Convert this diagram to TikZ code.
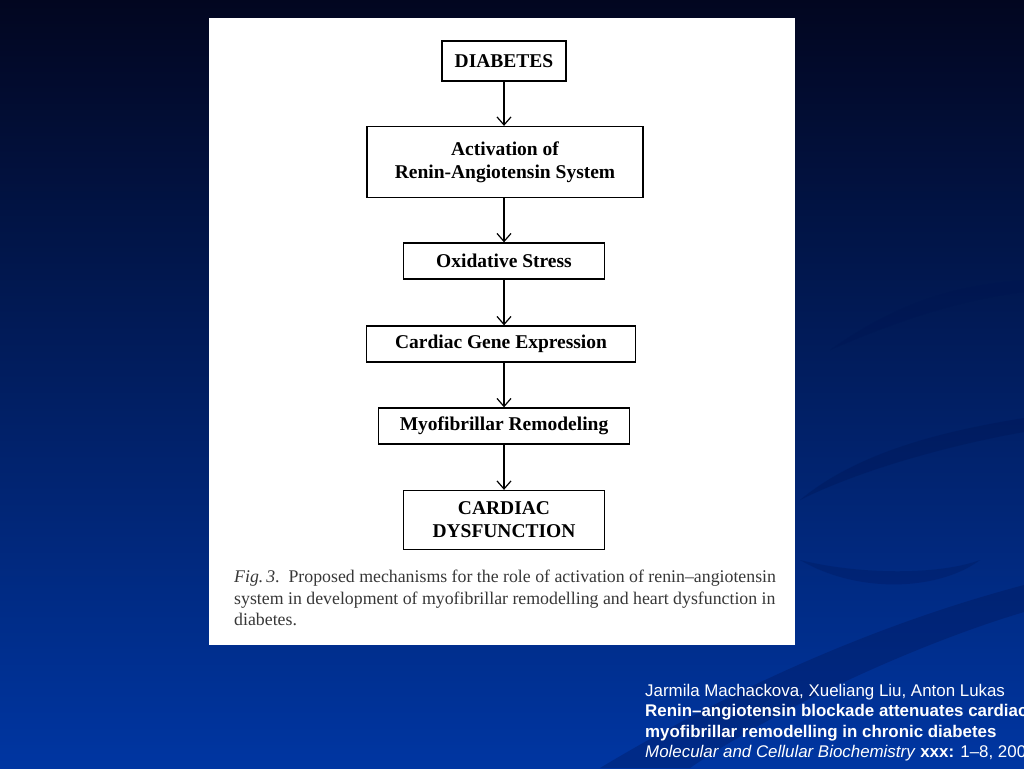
\documentclass[tikz,border=0pt]{standalone}
\usepackage{fontspec}
\setmainfont{Liberation Serif}
\setsansfont{Liberation Sans}
\usepackage{xcolor}
\usetikzlibrary{arrows.meta}

\definecolor{bgtop}{RGB}{2,6,32}
\definecolor{bgmid}{RGB}{0,38,130}
\definecolor{bgbot}{RGB}{0,54,162}
\definecolor{swoosh}{RGB}{0,18,80}
\definecolor{captext}{RGB}{55,55,55}

\begin{document}
\begin{tikzpicture}[x=1pt,y=-1pt,
    box/.style={draw, line width=1.3pt, minimum height=36, inner sep=0pt, align=center,
      font=\bfseries\fontsize{19.5}{23}\selectfont},
    flow/.style={-{Straight Barb[length=8pt,width=14pt,line width=1.2pt]}, line width=1.2pt},
    caption/.style={text=captext, align=left, inner sep=0pt, font=\fontsize{17.8}{21.5}\selectfont},
    cite/.style={text=white, align=left, inner sep=0pt, font=\sffamily\fontsize{16.9}{20.5}\selectfont}]
  \useasboundingbox (0,0) rectangle (1024,768);

  % background
  \shade [top color=bgtop, middle color=bgmid, bottom color=bgbot] (0,0) rectangle (1024,768);
  \fill [swoosh, opacity=0.3] (600,768) .. controls (780,660) and (930,610) .. (1024,585)
    -- (1024,612) .. controls (930,640) and (790,700) .. (690,768) -- cycle;
  \fill [swoosh, opacity=0.3] (800,500) .. controls (860,450) and (950,430) .. (1024,418)
    -- (1024,432) .. controls (950,445) and (860,470) .. (800,500) -- cycle;
  \fill [swoosh, opacity=0.25] (830,350) .. controls (900,300) and (960,285) .. (1024,280)
    -- (1024,292) .. controls (960,300) and (900,320) .. (830,350) -- cycle;
  \fill [swoosh, opacity=0.25] (800,560) .. controls (860,575) and (940,575) .. (980,560)
    .. controls (940,590) and (860,595) .. (800,560) -- cycle;

  % figure panel
  \fill [white] (209,18) rectangle (795,645);

  \node [box, minimum width=124, minimum height=40] (diab) at (504,61) {DIABETES};
  \node [box, minimum width=276, minimum height=71] (ras) at (505,162) {Activation of\\Renin-Angiotensin System};
  \node [box, minimum width=201] (ox) at (504,261) {Oxidative Stress};
  \node [box, minimum width=269] (gene) at (501,344) {Cardiac Gene Expression};
  \node [box, minimum width=251] (myo) at (504,426) {Myofibrillar Remodeling};
  \node [box, minimum width=201, minimum height=59] (dys) at (504,520) {CARDIAC\\DYSFUNCTION};

  \draw [flow] (diab.south) -- (diab.south |- ras.north);
  \draw [flow] (diab.south |- ras.south) -- (diab.south |- ox.north);
  \draw [flow] (ox.south) -- (ox.south |- gene.north);
  \draw [flow] (ox.south |- gene.south) -- (ox.south |- myo.north);
  \draw [flow] (myo.south) -- (myo.south |- dys.north);

  \node [caption, anchor=north west] (cap) at (234,570)
    {\textit{Fig.\,3}.\ \ Proposed mechanisms for the role of activation of renin--angiotensin\\
     system in development of myofibrillar remodelling and heart dysfunction in\\
     diabetes.};

  % reference, cut at the right edge as in the slide
  \begin{scope}
    \clip (0,0) rectangle (1024,768);
    \node [cite, anchor=north west] (ref) at (645,684)
      {Jarmila Machackova, Xueliang Liu, Anton Lukas\\
       \textbf{Renin--angiotensin blockade attenuates cardiac}\\
       \textbf{myofibrillar remodelling in chronic diabetes}\\
       \textit{Molecular and Cellular Biochemistry} \textbf{xxx:} 1--8, 2004};
  \end{scope}
\end{tikzpicture}
\end{document}
